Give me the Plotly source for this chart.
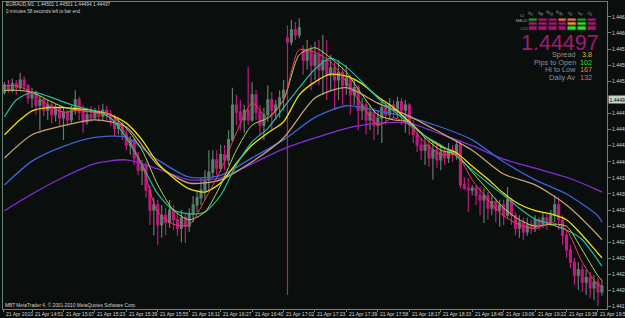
import plotly.graph_objects as go

# ---------------- data ----------------
bar_minute = list(range(2, 308, 2))  # one candle every 2 minutes (153 candles)

open_ = [1.44508,1.44519,1.44511,1.44521,1.44515,1.44527,1.44518,1.44499,1.44508,1.44488,
         1.44496,1.44480,1.44488,1.44473,1.44484,1.44468,1.44477,1.44465,1.44480,1.44496,
         1.44477,1.44462,1.44473,1.44468,1.44477,1.44471,1.44480,1.44474,1.44465,1.44452,
         1.44459,1.44442,1.44426,1.44434,1.44406,1.44387,1.44395,1.44356,1.44325,1.44333,
         1.44302,1.44317,1.44306,1.44325,1.44310,1.44297,1.44313,1.44300,1.44319,1.44333,
         1.44344,1.44356,1.44372,1.44384,1.44403,1.44390,1.44411,1.44403,1.44434,1.44488,
         1.44477,1.44465,1.44480,1.44465,1.44504,1.44477,1.44457,1.44473,1.44496,1.44480,
         1.44488,1.44499,1.44592,1.44586,1.44605,1.44597,1.44574,1.44558,1.44574,1.44550,
         1.44566,1.44543,1.44558,1.44535,1.44546,1.44527,1.44539,1.44519,1.44530,1.44504,
         1.44515,1.44480,1.44488,1.44465,1.44477,1.44457,1.44468,1.44484,1.44473,1.44488,
         1.44480,1.44493,1.44480,1.44488,1.44457,1.44442,1.44426,1.44418,1.44426,1.44406,
         1.44418,1.44403,1.44415,1.44406,1.44418,1.44411,1.44426,1.44364,1.44359,1.44356,
         1.44359,1.44348,1.44341,1.44348,1.44328,1.44338,1.44325,1.44333,1.44317,1.44341,
         1.44317,1.44297,1.44306,1.44291,1.44302,1.44297,1.44310,1.44302,1.44313,1.44306,
         1.44317,1.44333,1.44310,1.44286,1.44263,1.44244,1.44224,1.44232,1.44213,1.44220,
         1.44204,1.44213,1.44198]

close = [1.44519,1.44511,1.44521,1.44515,1.44527,1.44518,1.44499,1.44508,1.44488,1.44496,
         1.44480,1.44488,1.44473,1.44484,1.44468,1.44477,1.44465,1.44480,1.44496,1.44477,
         1.44462,1.44473,1.44468,1.44477,1.44471,1.44480,1.44474,1.44465,1.44452,1.44459,
         1.44442,1.44426,1.44434,1.44406,1.44387,1.44395,1.44356,1.44325,1.44333,1.44302,
         1.44317,1.44306,1.44325,1.44310,1.44297,1.44313,1.44300,1.44319,1.44333,1.44344,
         1.44356,1.44372,1.44384,1.44403,1.44390,1.44411,1.44403,1.44434,1.44488,1.44477,
         1.44465,1.44480,1.44465,1.44504,1.44477,1.44457,1.44473,1.44496,1.44480,1.44488,
         1.44499,1.44511,1.44586,1.44605,1.44597,1.44608,1.44558,1.44574,1.44550,1.44566,
         1.44543,1.44558,1.44535,1.44546,1.44527,1.44539,1.44519,1.44530,1.44504,1.44515,
         1.44480,1.44488,1.44465,1.44477,1.44457,1.44468,1.44484,1.44473,1.44488,1.44480,
         1.44493,1.44480,1.44488,1.44457,1.44442,1.44426,1.44418,1.44426,1.44406,1.44418,
         1.44403,1.44415,1.44406,1.44418,1.44411,1.44426,1.44364,1.44359,1.44356,1.44359,
         1.44348,1.44341,1.44348,1.44328,1.44338,1.44325,1.44333,1.44317,1.44341,1.44317,
         1.44297,1.44306,1.44291,1.44302,1.44297,1.44310,1.44302,1.44313,1.44306,1.44317,
         1.44333,1.44310,1.44286,1.44263,1.44244,1.44224,1.44232,1.44213,1.44220,1.44204,
         1.44213,1.44198,1.44207]

high = [1.44524,1.44527,1.44529,1.44527,1.44538,1.44533,1.44521,1.44515,1.44511,1.44502,
        1.44499,1.44496,1.44493,1.44490,1.44487,1.44484,1.44480,1.44487,1.44511,1.44501,
        1.44488,1.44484,1.44487,1.44484,1.44488,1.44490,1.44487,1.44480,1.44473,1.44468,
        1.44462,1.44452,1.44440,1.44437,1.44415,1.44403,1.44400,1.44364,1.44344,1.44341,
        1.44333,1.44328,1.44341,1.44333,1.44322,1.44325,1.44319,1.44328,1.44347,1.44356,
        1.44375,1.44387,1.44418,1.44418,1.44418,1.44426,1.44426,1.44449,1.44515,1.44504,
        1.44496,1.44488,1.44547,1.44524,1.44511,1.44488,1.44484,1.44519,1.44508,1.44496,
        1.44511,1.44527,1.44612,1.44620,1.44617,1.44623,1.44581,1.44589,1.44581,1.44586,
        1.44589,1.44597,1.44589,1.44566,1.44555,1.44558,1.44546,1.44550,1.44535,1.44527,
        1.44519,1.44499,1.44496,1.44488,1.44484,1.44480,1.44496,1.44491,1.44499,1.44496,
        1.44501,1.44499,1.44496,1.44491,1.44465,1.44449,1.44437,1.44437,1.44434,1.44431,
        1.44426,1.44426,1.44421,1.44429,1.44426,1.44434,1.44434,1.44376,1.44375,1.44364,
        1.44364,1.44361,1.44359,1.44353,1.44348,1.44344,1.44341,1.44341,1.44361,1.44344,
        1.44322,1.44317,1.44313,1.44313,1.44310,1.44317,1.44314,1.44322,1.44319,1.44325,
        1.44348,1.44345,1.44317,1.44294,1.44271,1.44251,1.44244,1.44240,1.44232,1.44229,
        1.44224,1.44220,1.44216]

low = [1.44504,1.44507,1.44508,1.44504,1.44511,1.44511,1.44490,1.44484,1.44473,1.44449,
       1.44471,1.44465,1.44459,1.44462,1.44456,1.44434,1.44457,1.44459,1.44473,1.44465,
       1.44445,1.44457,1.44462,1.44465,1.44462,1.44465,1.44465,1.44456,1.44440,1.44442,
       1.44434,1.44418,1.44411,1.44395,1.44379,1.44364,1.44344,1.44302,1.44286,1.44271,
       1.44282,1.44286,1.44297,1.44294,1.44285,1.44275,1.44274,1.44291,1.44306,1.44322,
       1.44333,1.44341,1.44356,1.44375,1.44379,1.44384,1.44387,1.44395,1.44431,1.44457,
       1.44449,1.44445,1.44457,1.44462,1.44465,1.44442,1.44434,1.44462,1.44449,1.44465,
       1.44468,1.44480,1.44193,1.44581,1.44589,1.44592,1.44535,1.44543,1.44511,1.44527,
       1.44519,1.44504,1.44496,1.44511,1.44480,1.44496,1.44488,1.44504,1.44473,1.44488,
       1.44449,1.44465,1.44442,1.44449,1.44434,1.44442,1.44429,1.44457,1.44465,1.44468,
       1.44468,1.44457,1.44445,1.44442,1.44429,1.44415,1.44403,1.44395,1.44392,1.44372,
       1.44390,1.44387,1.44395,1.44398,1.44400,1.44403,1.44359,1.44356,1.44322,1.44348,
       1.44333,1.44317,1.44305,1.44310,1.44317,1.44306,1.44299,1.44302,1.44313,1.44302,
       1.44286,1.44282,1.44279,1.44285,1.44288,1.44291,1.44294,1.44297,1.44294,1.44300,
       1.44306,1.44294,1.44271,1.44251,1.44235,1.44209,1.44201,1.44198,1.44193,1.44188,
       1.44185,1.44176,1.44192]

# moving-average curves
slow_minute = [2, 16, 32, 48, 64, 80, 96, 112, 128, 144, 160, 176, 192, 208, 224,
               240, 256, 272, 288, 304, 306]
ma_purple = [1.44324,1.44350,1.44376,1.44397,1.44403,1.44389,1.44372,1.44375,1.44397,1.44420,
             1.44437,1.44452,1.44460,1.44460,1.44443,1.44425,1.44404,1.44390,1.44376,1.44356,1.44353]
ma_blue = [1.44364,1.44401,1.44424,1.44438,1.44438,1.44403,1.44376,1.44379,1.44406,1.44434,
           1.44469,1.44487,1.44479,1.44469,1.44454,1.44434,1.44400,1.44372,1.44350,1.44316,1.44306]
ma_tan = [1.44406,1.44442,1.44456,1.44465,1.44454,1.44395,1.44367,1.44372,1.44400,1.44437,
          1.44499,1.44515,1.44491,1.44471,1.44445,1.44418,1.44381,1.44364,1.44333,1.44286,1.44279]

fast_minute = [2, 8, 16, 24, 32, 40, 48, 56, 64, 72, 80, 88, 96, 104, 112, 120, 128, 136,
               144, 152, 160, 168, 176, 184, 192, 200, 208, 216, 224, 232, 240, 248, 256,
               264, 272, 280, 288, 296, 304, 306]
ma_yellow = [1.44442,1.44460,1.44479,1.44484,1.44484,1.44482,1.44479,1.44473,1.44460,1.44434,
             1.44398,1.44375,1.44358,1.44353,1.44367,1.44398,1.44426,1.44445,1.44462,1.44504,
             1.44524,1.44536,1.44533,1.44521,1.44501,1.44484,1.44462,1.44440,1.44424,1.44414,
             1.44393,1.44373,1.44351,1.44334,1.44324,1.44319,1.44310,1.44286,1.44258,1.44251]
ma_teal = [1.44470,1.44496,1.44508,1.44502,1.44493,1.44485,1.44479,1.44468,1.44437,1.44395,
           1.44350,1.44325,1.44319,1.44322,1.44348,1.44395,1.44431,1.44452,1.44484,1.44515,
           1.44544,1.44561,1.44547,1.44524,1.44499,1.44479,1.44459,1.44440,1.44426,1.44409,
           1.44387,1.44367,1.44348,1.44328,1.44311,1.44303,1.44294,1.44279,1.44247,1.44238]
ma_lime = [1.44511,1.44511,1.44508,1.44496,1.44485,1.44480,1.44477,1.44473,1.44452,1.44418,
           1.44364,1.44325,1.44310,1.44322,1.44364,1.44418,1.44457,1.44468,1.44496,1.44566,
           1.44577,1.44561,1.44539,1.44504,1.44473,1.44465,1.44462,1.44437,1.44418,1.44411,
           1.44384,1.44356,1.44328,1.44310,1.44300,1.44303,1.44300,1.44263,1.44223,1.44216]
ma_red = [1.44518,1.44518,1.44508,1.44488,1.44477,1.44480,1.44476,1.44473,1.44442,1.44395,
          1.44322,1.44303,1.44302,1.44341,1.44387,1.44445,1.44491,1.44468,1.44496,1.44574,
          1.44570,1.44555,1.44524,1.44488,1.44457,1.44468,1.44457,1.44429,1.44411,1.44411,
          1.44372,1.44341,1.44316,1.44302,1.44296,1.44306,1.44294,1.44244,1.44209,1.44207]

tick_minute = [1.3, 16, 32, 48, 64, 80, 96, 112, 128, 144, 160, 176, 192, 208, 224, 240,
               256, 272, 288, 304]
tick_text = ["21 Apr 2010", "21 Apr 14:51", "21 Apr 15:07", "21 Apr 15:23", "21 Apr 15:39",
             "21 Apr 15:55", "21 Apr 16:11", "21 Apr 16:27", "21 Apr 16:40", "21 Apr 17:02",
             "21 Apr 17:23", "21 Apr 17:39", "21 Apr 17:58", "21 Apr 18:17", "21 Apr 18:33",
             "21 Apr 18:49", "21 Apr 19:06", "21 Apr 19:22", "21 Apr 19:38", "21 Apr 19:54"]

price_ticks = [1.44175, 1.44200, 1.44225, 1.44250, 1.44275, 1.44300, 1.44325, 1.44350,
               1.44375, 1.44400, 1.44425, 1.44450, 1.44475, 1.44525, 1.44550, 1.44575,
               1.44600, 1.44625]

# signal panel
panel_tf = ["M1", "M5", "M15", "M30", "H1", "H4", "D1"]
panel_rows = ["MACD", "STR", "CCI"]
panel_state = [[0, 1, 1, 2, 2, 0, 1],
               [1, 1, 1, 1, 3, 4, 1],
               [1, 1, 1, 1, 4, 4, 1]]
state_colors = ["#2c962c", "#a3196f", "#ee6f5c", "#f0a020", "#2fe02f"]

info_labels = ["Spread", "Pips to Open", "Hi to Low", "Daily Av"]
info_values = ["3.8", "102", "167", "132"]
info_colors = ["#f0a030", "#28e028", "#f07840", "#ee5a88"]

last_price = "1.44497"
header_line = "EURAUD,M1  1.44501 1.44501 1.44494 1.44497"
timer_line = "0 minutes 58 seconds left to bar end"
copyright_line = "MBT MetaTrader 4, \u00a9 2001-2010 MetaQuotes Software Corp."

# ---------------- figure ----------------
BG = "#0a0e0d"
FRAME = "#6a8272"
TXT = "#cfd4d2"
FONT = "Liberation Sans, Arial, sans-serif"
BULL = "#5e7e6c"
BEAR = "#c0187f"

W, H = 625, 318
ML, MR, MT, MB = 3, 18, 2, 9
PW, PH = W - ML - MR, H - MT - MB
X_RANGE = [1.24, 308.6]


def px_x(x):
    return (x - ML) / PW


def px_y(y):
    return (H - MB - y) / PH


def minute_to_paper(m):
    return (m - X_RANGE[0]) / (X_RANGE[1] - X_RANGE[0])


fig = go.Figure()

fig.add_trace(go.Candlestick(
    x=bar_minute, open=open_, high=high, low=low, close=close,
    increasing=dict(line=dict(color=BULL, width=1.2), fillcolor=BULL),
    decreasing=dict(line=dict(color=BEAR, width=1.2), fillcolor=BEAR),
    whiskerwidth=0, hoverinfo="skip", showlegend=False))

for xs, ys, col, w in [
    (slow_minute, ma_purple, "#8a2be2", 1.3),
    (slow_minute, ma_blue, "#3c64dc", 1.3),
    (slow_minute, ma_tan, "#c9a272", 1.3),
    (fast_minute, ma_yellow, "#f2e205", 1.3),
    (fast_minute, ma_teal, "#1fbfa0", 1.2),
    (fast_minute, ma_lime, "#b2dc4a", 1.0),
    (fast_minute, ma_red, "#f03c5a", 1.0),
]:
    fig.add_trace(go.Scatter(x=xs, y=ys, mode="lines",
                             line=dict(color=col, width=w, shape="spline", smoothing=0.7),
                             hoverinfo="skip", showlegend=False))

n = len(state_colors)
cscale = []
for i, c in enumerate(state_colors):
    cscale.append([i / n, c])
    cscale.append([(i + 1) / n, c])
fig.add_trace(go.Heatmap(
    z=panel_state, x=panel_tf, y=panel_rows, xaxis="x2", yaxis="y2",
    zmin=-0.5, zmax=n - 0.5, colorscale=cscale, showscale=False,
    xgap=1.6, ygap=1.4, hoverinfo="skip"))

annotations = []
for m, t in zip(tick_minute, tick_text):
    annotations.append(dict(text=t, x=minute_to_paper(m) + 0.5 / PW, y=px_y(313.5),
                            xref="paper", yref="paper", xanchor="left", yanchor="middle",
                            showarrow=False, font=dict(size=5, color=TXT, family=FONT)))
annotations.append(dict(text=header_line, x=px_x(4), y=px_y(4.5), xref="paper", yref="paper",
                        xanchor="left", yanchor="middle", showarrow=False,
                        font=dict(size=4.8, color=TXT, family=FONT)))
annotations.append(dict(text=timer_line, x=px_x(4), y=px_y(11), xref="paper", yref="paper",
                        xanchor="left", yanchor="middle", showarrow=False,
                        font=dict(size=4.6, color=TXT, family=FONT)))
annotations.append(dict(text=copyright_line, x=px_x(3), y=px_y(304.5), xref="paper", yref="paper",
                        xanchor="left", yanchor="middle", showarrow=False,
                        font=dict(size=4.8, color=TXT, family=FONT)))
annotations.append(dict(text="Cl", x=px_x(522), y=px_y(15), xref="paper", yref="paper",
                        xanchor="center", yanchor="middle", showarrow=False,
                        font=dict(size=4, color="#a0a0a0", family=FONT)))
annotations.append(dict(text=last_price, x=px_x(559.5), y=px_y(43.5), xref="paper", yref="paper",
                        xanchor="center", yanchor="middle", showarrow=False,
                        font=dict(size=21.5, color="#a31a6e", family=FONT)))
for i, (lab, val, col) in enumerate(zip(info_labels, info_values, info_colors)):
    yy = 54.5 + i * 7.7
    annotations.append(dict(text=lab, x=px_x(577.5), y=px_y(yy), xref="paper", yref="paper",
                            xanchor="right", yanchor="middle", showarrow=False,
                            font=dict(size=7.3, color="#8f8f8f", family=FONT)))
    annotations.append(dict(text=val, x=px_x(594), y=px_y(yy), xref="paper", yref="paper",
                            xanchor="right", yanchor="middle", showarrow=False,
                            font=dict(size=7.3, color=col, family=FONT)))
annotations.append(dict(text=last_price, x=px_x(607.5), y=float(last_price), xref="paper", yref="y",
                        xanchor="left", yanchor="middle", showarrow=False,
                        bgcolor="#c4d4c6", borderpad=0.5,
                        font=dict(size=5, color="#000000", family=FONT)))

fig.update_layout(
    width=W, height=H,
    margin=dict(l=ML, r=MR, t=MT, b=MB, pad=0),
    paper_bgcolor=BG, plot_bgcolor=BG,
    showlegend=False,
    font=dict(family=FONT, color=TXT, size=5),
    annotations=annotations,
    xaxis=dict(range=X_RANGE, showgrid=False, zeroline=False,
               showline=True, linecolor=FRAME, linewidth=1, mirror=True,
               ticks="outside", ticklen=2, tickcolor=FRAME,
               tickvals=tick_minute, showticklabels=False,
               rangeslider=dict(visible=False), automargin=False),
    yaxis=dict(range=[1.441714, 1.446481], side="right", showgrid=False, zeroline=False,
               showline=True, linecolor=FRAME, linewidth=1, mirror=True,
               ticks="outside", ticklen=3, tickcolor=FRAME,
               tickvals=price_ticks, tickformat=".5f",
               tickfont=dict(size=5, color=TXT, family=FONT), automargin=False),
    xaxis2=dict(domain=[px_x(528.5), px_x(597.5)], anchor="y2", side="top",
                showgrid=False, zeroline=False, showline=False, ticks="",
                tickfont=dict(size=4, color="#a0a0a0", family=FONT), automargin=False),
    yaxis2=dict(domain=[px_y(30.8), px_y(18.3)], anchor="x2", autorange="reversed",
                showgrid=False, zeroline=False, showline=False, ticks="",
                tickfont=dict(size=4, color="#a0a0a0", family=FONT), automargin=False),
)

fig.write_html("out.html")
